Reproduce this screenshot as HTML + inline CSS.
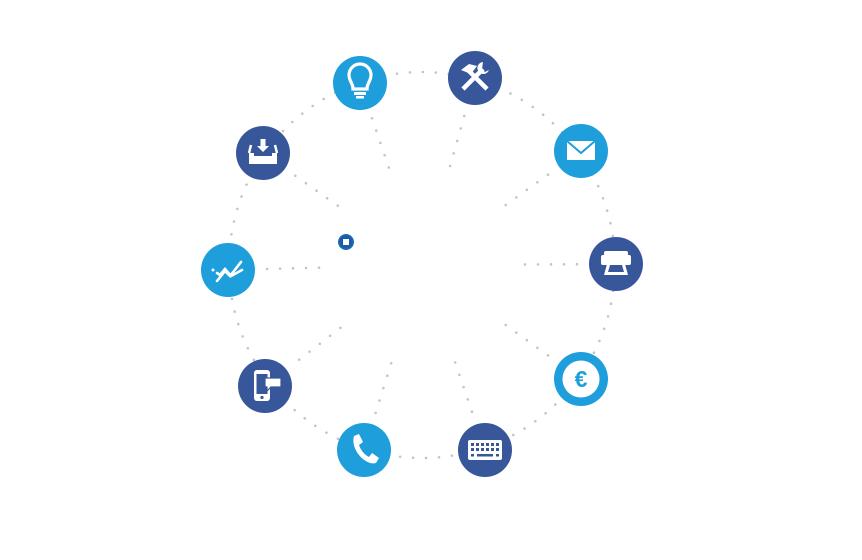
<!DOCTYPE html>
<html><head><meta charset="utf-8"><style>
html,body{margin:0;padding:0;background:#fff;width:862px;height:560px;overflow:hidden}
</style></head><body>
<svg id="s" width="862" height="560" viewBox="0 0 862 560" xmlns="http://www.w3.org/2000/svg">
<g id="dots" stroke="#c4c4c4" stroke-width="2.6" stroke-linecap="round" fill="none" stroke-dasharray="0 13">
<circle cx="422" cy="265" r="193"/>
</g>
<g id="icons"></g>
<circle cx="346" cy="242" r="8" fill="#1c6fb8"/>
<circle cx="346" cy="242" r="6.5" fill="#1e5aa6"/>
<rect x="343" y="239" width="6" height="6" fill="#fff"/>
</svg>
<script>
var C=[422,265];
var L="#1e9fdc",D="#37579a";
var items=[
[360,83,L,'bulb'],[475,78,D,'tools'],[581,151,L,'mail'],[616,264,D,'fax'],[581,379,L,'euro'],
[485,450,D,'kb'],[364,450,L,'phone'],[265,386,D,'mobile'],[228,270,L,'chart'],[263,153,D,'dl']];
var ns="http://www.w3.org/2000/svg";
var dots=document.getElementById('dots'),ic=document.getElementById('icons');
items.forEach(function(it){
 var dx=it[0]-C[0],dy=it[1]-C[1],d=Math.sqrt(dx*dx+dy*dy),ux=dx/d,uy=dy/d;
 var l=document.createElementNS(ns,'line');
 l.setAttribute('x1',C[0]+ux*103);l.setAttribute('y1',C[1]+uy*103);
 l.setAttribute('x2',C[0]+ux*160);l.setAttribute('y2',C[1]+uy*160);
 dots.appendChild(l);
});
var shapes={
bulb:'<path d="M-7,6 C-7,0 -11,-2 -11,-8 A11,11 0 0 1 11,-8 C11,-2 7,0 7,6 Z" fill="none" stroke="#fff" stroke-width="3.2"/><rect x="-6" y="9" width="12" height="3" fill="#fff"/><rect x="-4" y="13" width="8" height="2.5" fill="#fff"/>',
tools:'<path d="M-12,11 L8,-9" stroke="#fff" stroke-width="4.5"/><path d="M12,11 L-6,-7" stroke="#fff" stroke-width="4.5"/><path d="M-14,-8 L-6,-14 L2,-12 L-4,-4 Z" fill="#fff"/><path d="M8,-16 A6,6 0 1 0 14,-8 L10,-6 L7,-9 Z" fill="#fff"/>',
mail:'<rect x="-14" y="-10" width="28" height="19" fill="#fff"/><path d="M-14,-10 L0,2 L14,-10" fill="none" stroke="'+L+'" stroke-width="2"/>',
fax:'<rect x="-15" y="-9" width="30" height="10" rx="2" fill="#fff"/><rect x="-12" y="-13" width="24" height="5" rx="2" fill="#fff"/><path d="M-9,0 L9,0 L12,11 L-12,11 Z" fill="#fff"/><path d="M-6,1 L6,1 L8,8 L-8,8 Z" fill="'+D+'"/>',
euro:'<circle r="18.5" fill="#fff"/><text x="0" y="8" text-anchor="middle" font-family="Liberation Sans,sans-serif" font-size="23" font-weight="bold" fill="'+L+'">€</text>',
kb:'<rect x="-17" y="-10" width="34" height="20" rx="2" fill="#fff"/>'+(function(){var s='';for(var r=0;r<2;r++)for(var c=0;c<6;c++)s+='<rect x="'+(-14+c*5)+'" y="'+(-7+r*5)+'" width="3" height="3" fill="'+D+'"/>';return s+'<rect x="-8" y="4" width="16" height="2.5" fill="'+D+'"/><rect x="-14" y="4" width="3" height="2.5" fill="'+D+'"/><rect x="11" y="4" width="3" height="2.5" fill="'+D+'"/>';})(),
phone:'<path d="M-10,-14 L-5,-16 L-1,-8 L-5,-5 C-3,1 1,5 5,7 L8,3 L15,8 L12,13 C2,16 -14,0 -10,-14 Z" fill="#fff"/>',
mobile:'<rect x="-11" y="-16" width="16" height="31" rx="3" fill="#fff"/><rect x="-8.5" y="-12" width="11" height="20" fill="'+D+'"/><circle cx="-3" cy="11.5" r="1.6" fill="'+D+'"/><path d="M0,-8 L16,-8 L16,1 L6,1 L2,5 L2,1 L0,1 Z" fill="#fff" stroke="'+D+'" stroke-width="1.2"/>',
chart:'<polyline points="-11,11 -3,1 2,6 13,-8" fill="none" stroke="#fff" stroke-width="2.6" stroke-linecap="round"/><polyline points="-11,3 -8,5 -3,-1 3,6 14,0" fill="none" stroke="#fff" stroke-width="2.6" stroke-linecap="round"/><circle cx="-15" cy="0" r="1.5" fill="#fff"/>',
dl:'<path d="M-14,0 L-14,11 L14,11 L14,0 L9,0 L9,3 L-9,3 L-9,0 Z" fill="#fff"/><path d="M-14,0 L-12,-8 M14,0 L12,-8" stroke="#fff" stroke-width="2.5"/><path d="M-2.5,-14 L2.5,-14 L2.5,-7 L6,-7 L0,-1 L-6,-7 L-2.5,-7 Z" fill="#fff"/>'
};
items.forEach(function(it){
 var g=document.createElementNS(ns,'g');
 g.setAttribute('transform','translate('+it[0]+','+it[1]+')');
 g.innerHTML='<circle r="27" fill="'+it[2]+'"/>'+shapes[it[3]];
 ic.appendChild(g);
});
</script>
</body></html>
